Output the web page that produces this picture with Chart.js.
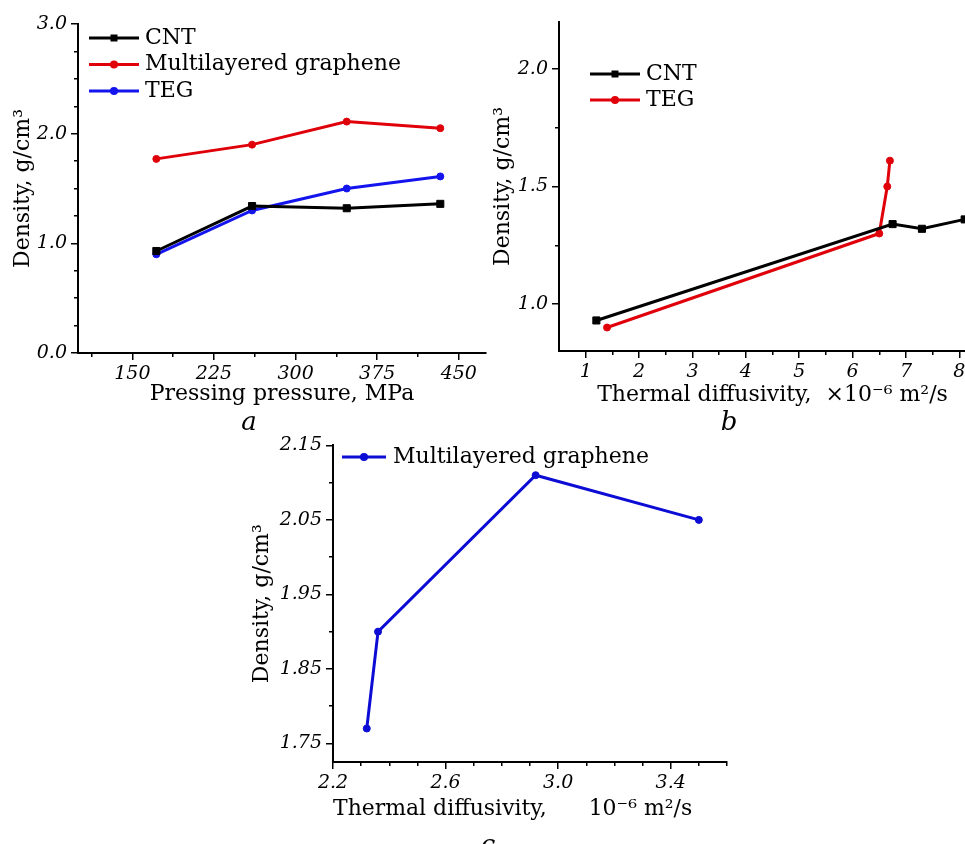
<!DOCTYPE html>
<html>
<head>
<meta charset="utf-8">
<script src="https://cdn.jsdelivr.net/npm/chart.js@4.4.1/dist/chart.umd.min.js"></script>
<style>
  body { margin: 0; width: 965px; height: 844px; overflow: hidden; background: #fff; position: relative; }
  canvas { position: absolute; }
  .panel { position: absolute; width: 40px; text-align: center; line-height: 30px;
           font: italic 26px "DejaVu Serif", serif; }
</style>
</head>
<body>
<canvas id="chartA" width="500" height="430" style="left:0;top:0"></canvas>
<canvas id="chartB" width="520" height="430" style="left:480px;top:0"></canvas>
<canvas id="chartC" width="500" height="414" style="left:240px;top:430px"></canvas>
<div class="panel" style="left:229px;top:406px">a</div>
<div class="panel" style="left:709px;top:406px">b</div>
<div class="panel" style="left:468px;top:829px">c</div>

<script>
// ================= Data =================

// panel a: density vs pressing pressure (MPa)
const pressure = [172, 260, 347, 433];
const cntDensity = [0.93, 1.34, 1.32, 1.36];
const grapheneDensity = [1.77, 1.90, 2.11, 2.05];
const tegDensity = [0.90, 1.30, 1.50, 1.61];

// panel b: thermal diffusivity, x10^-6 m2/s
const cntDiffusivity = [1.2, 6.75, 7.3, 8.1];
const tegDiffusivity = [1.4, 6.5, 6.65, 6.7];

// panel c: multilayered graphene
const grapheneDiffusivity = [2.32, 2.36, 2.92, 3.5];

// tick labels
const aPressureTicks = [150, 225, 300, 375, 450];
const aDensityTicks = [0, 1, 2, 3];
const bDiffTicks = [1, 2, 3, 4, 5, 6, 7, 8];
const bDensityTicks = [1.0, 1.5, 2.0];
const cDiffTicks = [2.2, 2.6, 3.0, 3.4];
const cDensityTicks = [1.75, 1.85, 1.95, 2.05, 2.15];

// ================= Helpers =================

const FONT = '"DejaVu Serif", serif';
Chart.defaults.font.family = FONT;
Chart.defaults.color = "#000";

const TICK = 7;      // major tick length
const MINOR = 3;     // visible part of a minor tick

function pairs(xs, ys) {
    return xs.map((x, i) => ({ x: x, y: ys[i] }));
}

function range(from, to, step) {
    const out = [];
    for (let v = from; v <= to + step / 1000; v += step) {
        out.push(Math.round(v * 1000) / 1000);
    }
    return out;
}

// axis with minor ticks (label only on the listed values)
function makeScale(o) {
    const isMajor = v => o.labels.some(l => Math.abs(l - v) < 1e-6);
    const tickValue = ctx => (ctx.tick ? ctx.tick.value : NaN);
    return {
        type: "linear",
        bounds: "data",
        min: o.min,
        max: o.max,
        afterBuildTicks: s => {
            s.ticks = range(o.minor[0], o.minor[1], o.minor[2]).map(v => ({ value: v }));
        },
        afterFit: s => {
            if (o.horizontal) s.height = o.size; else s.width = o.size;
        },
        border: { display: true, color: "#000", width: 2 },
        grid: {
            display: true,
            drawOnChartArea: false,
            drawTicks: true,
            tickLength: TICK,
            color: "#000",
            lineWidth: 1.5,
            // minor ticks: only a short dash next to the axis line
            tickBorderDash: ctx => isMajor(tickValue(ctx)) ? [] :
                (o.horizontal ? [MINOR, 40] : [MINOR, TICK - 1 - MINOR]),
            tickBorderDashOffset: ctx => (isMajor(tickValue(ctx)) || o.horizontal) ? 0 : MINOR
        },
        ticks: {
            autoSkip: false,
            maxRotation: 0,
            padding: o.horizontal ? 3 : 4,
            font: { size: 19, style: "italic" },
            callback: v => isMajor(v) ? v.toFixed(o.digits) : ""
        },
        title: {
            display: true,
            text: o.title,
            font: { size: 22 },
            padding: o.titlePad
        }
    };
}

function series(label, xs, ys, color, style, radius) {
    return {
        label: label,
        data: pairs(xs, ys),
        borderColor: color,
        backgroundColor: color,
        borderWidth: 3,
        pointStyle: style,
        pointRadius: radius,
        pointHoverRadius: radius,
        pointBorderWidth: 1,
        tension: 0
    };
}

// legend drawn as line + marker + text, like the original plots
const lineLegend = {
    id: "lineLegend",
    afterDraw(chart, args, opts) {
        const ctx = chart.ctx;
        ctx.save();
        ctx.font = "22px " + FONT;
        ctx.textBaseline = "middle";
        chart.data.datasets.forEach((ds, i) => {
            const y = opts.y + i * opts.step;
            ctx.strokeStyle = ds.borderColor;
            ctx.fillStyle = ds.borderColor;
            ctx.lineWidth = ds.borderWidth;
            ctx.beginPath();
            ctx.moveTo(opts.x, y);
            ctx.lineTo(opts.x + opts.len, y);
            ctx.stroke();
            const mx = opts.x + opts.len / 2;
            ctx.beginPath();
            if (ds.pointStyle === "rect") ctx.rect(mx - 3.5, y - 3.5, 7, 7);
            else ctx.arc(mx, y, 4, 0, Math.PI * 2);
            ctx.fill();
            ctx.fillStyle = "#000";
            ctx.fillText(ds.label, opts.x + opts.len + opts.gap, y);
        });
        ctx.restore();
    }
};

function makeChart(id, datasets, xScale, yScale, pad, legend) {
    return new Chart(document.getElementById(id), {
        type: "line",
        data: { datasets: datasets },
        options: {
            responsive: false,
            animation: false,
            devicePixelRatio: 1,
            layout: { padding: pad },
            plugins: {
                legend: { display: false },
                tooltip: { enabled: false },
                lineLegend: legend
            },
            scales: { x: xScale, y: yScale }
        },
        plugins: [lineLegend]
    });
}

const densityTitle = "Density, g/cm\u00B3";

// ================= Panel a =================
makeChart("chartA",
    [
        series("CNT", pressure, cntDensity, "#000000", "rect", 5),
        series("Multilayered graphene", pressure, grapheneDensity, "#e0000a", "circle", 3.5),
        series("TEG", pressure, tegDensity, "#1414ee", "circle", 3.5)
    ],
    makeScale({ horizontal: true, min: 100, max: 475, minor: [112.5, 475, 37.5], labels: aPressureTicks,
        digits: 0, size: 77, title: "Pressing pressure, MPa", titlePad: { top: 0, bottom: 23 } }),
    makeScale({ horizontal: false, min: 0, max: 3, minor: [0, 3, 0.25], labels: aDensityTicks,
        digits: 1, size: 78, title: densityTitle, titlePad: { top: 10, bottom: 0 } }),
    { left: 0, top: 24, right: 14, bottom: 0 },
    { x: 89, y: 38, step: 26.5, len: 50, gap: 6 }
);

// ================= Panel b =================
makeChart("chartB",
    [
        series("CNT", cntDiffusivity, cntDensity, "#000000", "rect", 5),
        series("TEG", tegDiffusivity, tegDensity, "#e0000a", "circle", 3.5)
    ],
    makeScale({ horizontal: true, min: 0.5, max: 8.5, minor: [1, 8.5, 0.5], labels: bDiffTicks,
        digits: 0, size: 79, title: "Thermal diffusivity,  \u00D710\u207B\u2076 m\u00B2/s", titlePad: { top: 0, bottom: 22 } }),
    makeScale({ horizontal: false, min: 0.8, max: 2.2, minor: [1, 2, 0.25], labels: bDensityTicks,
        digits: 1, size: 79, title: densityTitle, titlePad: { top: 10, bottom: 0 } }),
    { left: 0, top: 22, right: 14, bottom: 0 },
    { x: 110, y: 74, step: 26, len: 50, gap: 6 }
);

// ================= Panel c =================
makeChart("chartC",
    [
        series("Multilayered graphene", grapheneDiffusivity, grapheneDensity, "#0c0cd4", "circle", 3.5)
    ],
    makeScale({ horizontal: true, min: 2.2, max: 3.6, minor: [2.2, 3.6, 0.1], labels: cDiffTicks,
        digits: 1, size: 82, title: "Thermal diffusivity,      10\u207B\u2076 m\u00B2/s     ", titlePad: { top: 0, bottom: 22 } }),
    makeScale({ horizontal: false, min: 1.725, max: 2.15, minor: [1.75, 2.15, 0.05], labels: cDensityTicks,
        digits: 2, size: 93, title: densityTitle, titlePad: { top: 9, bottom: 0 } }),
    { left: 0, top: 14, right: 13, bottom: 0 },
    { x: 102, y: 27, step: 26, len: 44, gap: 7 }
);
</script>
</body>
</html>
